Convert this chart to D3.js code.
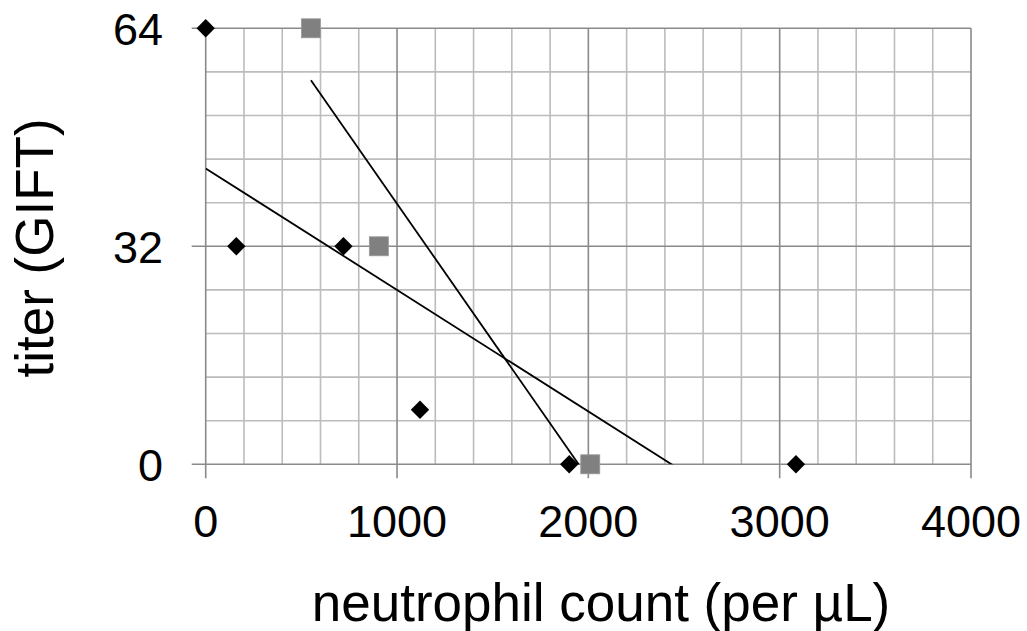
<!DOCTYPE html>
<meta charset="utf-8">
<title>titer vs neutrophil count</title>
<style>
    body {
        margin: 0;
        background: #fff;
        font-family: "Liberation Sans", Arial, sans-serif;
    }
</style>

<body>
    <script src="https://cdn.jsdelivr.net/npm/d3@7"></script>
    <script>
        /* Data */
        var diamondX = [0, 160, 720, 1120, 1900, 3085];
        var diamondY = [64, 32, 32, 8, 0, 0];
        var squareX = [550, 905, 2010];
        var squareY = [64, 32, 0];

        var xTicks = [0, 1000, 2000, 3000, 4000];
        var yTicks = [0, 32, 64];

        /* Layout constants */
        var width = 1027,
            height = 631;
        var plotLeft = 205.7, plotRight = 971, plotTop = 28.3, plotBottom = 464.3;

        var svg = d3.select("body").append("svg")
            .attr("width", width)
            .attr("height", height);

        var x = d3.scaleLinear().domain([0, 4000]).range([plotLeft, plotRight]);
        var y = d3.scaleLinear().domain([0, 64]).range([plotBottom, plotTop]);

        // minor grid (every 200 on x, every 6.4 on y)
        var xMinor = d3.range(0, 4001, 200).filter(v => v % 1000 !== 0);
        var yMinor = d3.range(1, 10).map(k => k * 6.4).filter(v => Math.abs(v - 32) > 0.01);

        var grid = svg.append("g");
        grid.selectAll("line.xminor").data(xMinor).enter().append("line")
            .attr("x1", d => x(d)).attr("x2", d => x(d))
            .attr("y1", plotTop).attr("y2", plotBottom)
            .attr("stroke", "#bcbcbc").attr("stroke-width", 1.6);
        grid.selectAll("line.yminor").data(yMinor).enter().append("line")
            .attr("x1", plotLeft).attr("x2", plotRight)
            .attr("y1", d => y(d)).attr("y2", d => y(d))
            .attr("stroke", "#bcbcbc").attr("stroke-width", 1.6);

        // major grid plus the outward ticks
        grid.selectAll("line.xmajor").data(xTicks).enter().append("line")
            .attr("x1", d => x(d)).attr("x2", d => x(d))
            .attr("y1", plotTop).attr("y2", plotBottom + 14)
            .attr("stroke", "#8a8a8a").attr("stroke-width", 1.6);
        grid.selectAll("line.ymajor").data(yTicks).enter().append("line")
            .attr("x1", plotLeft - 14).attr("x2", plotRight)
            .attr("y1", d => y(d)).attr("y2", d => y(d))
            .attr("stroke", "#8a8a8a").attr("stroke-width", 1.6);

        // tick labels
        svg.selectAll("text.xt").data(xTicks).enter().append("text")
            .attr("x", d => x(d)).attr("y", 536.5)
            .attr("text-anchor", "middle")
            .attr("font-size", "45px")
            .text(d => d);
        svg.selectAll("text.yt").data(yTicks).enter().append("text")
            .attr("x", 163).attr("y", d => y(d) + 16.5)
            .attr("text-anchor", "end")
            .attr("font-size", "45px")
            .text(d => d);

        // axis titles
        svg.append("text")
            .attr("x", 601).attr("y", 621)
            .attr("text-anchor", "middle")
            .attr("font-size", "53px")
            .text("neutrophil count (per µL)");
        svg.append("text")
            .attr("transform", "translate(53,248) rotate(-90)")
            .attr("text-anchor", "middle")
            .attr("font-size", "53px")
            .text("titer (GIFT)");

        // linear trendlines (least squares, over each series' x range)
        svg.append("clipPath").attr("id", "plot")
            .append("rect").attr("x", plotLeft).attr("y", plotTop)
            .attr("width", plotRight - plotLeft).attr("height", plotBottom - plotTop);

        function trend(xs, ys) {
            var mx = d3.mean(xs), my = d3.mean(ys);
            var sxy = d3.sum(xs, (v, i) => (v - mx) * (ys[i] - my));
            var sxx = d3.sum(xs, v => (v - mx) * (v - mx));
            var b = sxy / sxx, a = my - b * mx;
            var x0 = d3.min(xs), x1 = d3.max(xs);
            return [[x0, a + b * x0], [x1, a + b * x1]];
        }

        var line = d3.line().x(d => x(d[0])).y(d => y(d[1]));
        [trend(diamondX, diamondY), trend(squareX, squareY)].forEach(function (t) {
            svg.append("path")
                .attr("d", line(t))
                .attr("clip-path", "url(#plot)")
                .attr("fill", "none")
                .attr("stroke", "#000")
                .attr("stroke-width", 1.8);
        });

        // markers
        svg.selectAll("rect.sq").data(squareX).enter().append("rect")
            .attr("x", (d, i) => x(d) - 9.5)
            .attr("y", (d, i) => y(squareY[i]) - 9.5)
            .attr("width", 19).attr("height", 19)
            .attr("fill", "#808080")
            .attr("stroke", "#999").attr("stroke-width", 0.8);

        var diamond = d3.symbol().type(d3.symbolSquare).size(13 * 13);
        svg.selectAll("path.dm").data(diamondX).enter().append("path")
            .attr("d", diamond)
            .attr("transform", (d, i) => "translate(" + x(d) + "," + y(diamondY[i]) + ") rotate(45)")
            .attr("fill", "#000");
    </script>
</body>
